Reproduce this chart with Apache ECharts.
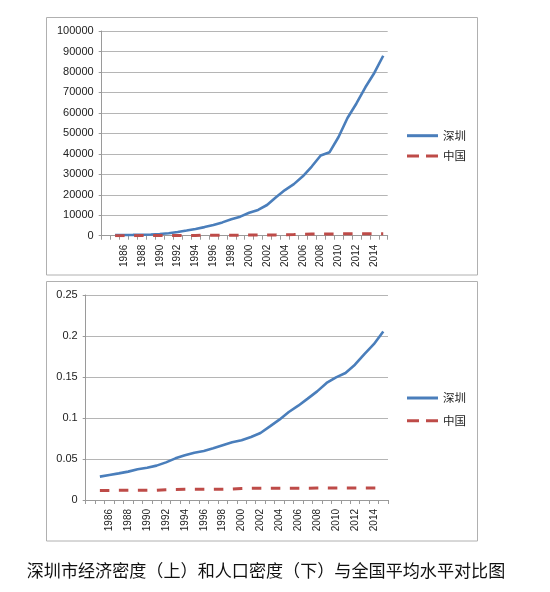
<!DOCTYPE html>
<html>
<head>
<meta charset="utf-8">
<script src="https://cdn.jsdelivr.net/npm/echarts@6/dist/echarts.min.js"></script>
<style>
html,body{margin:0;padding:0;background:#fff;}
#c{width:550px;height:592px;}
</style>
</head>
<body>
<div id="c"></div>
<script>
// Years shown on the category axes (the first slot of the axis is empty)
var years = ['1985','1986','1987','1988','1989','1990','1991','1992','1993','1994','1995','1996','1997','1998','1999','2000','2001','2002','2003','2004','2005','2006','2007','2008','2009','2010','2011','2012','2013','2014','2015'];
// Economic density (top chart)
var szEcon = [300,350,400,500,600,800,1200,1800,2500,3300,4200,5200,6500,8000,9300,11200,12600,15000,18800,22300,25200,29000,33800,39200,40800,48200,57500,64600,72500,79500,87900];
var cnEcon = [20,25,30,40,45,50,60,75,100,140,180,210,230,250,260,290,320,350,400,470,540,640,780,830,850,880,920,950,970,990,1000];
// Population density (bottom chart)
var szPop = [0.0285,0.0305,0.0325,0.0346,0.0374,0.0394,0.0419,0.0459,0.0508,0.0545,0.0577,0.0598,0.063,0.0667,0.0703,0.0728,0.0768,0.0817,0.0898,0.098,0.1073,0.115,0.1236,0.1325,0.1427,0.1496,0.1549,0.165,0.178,0.190,0.2055];
var cnPop = [0.0117,0.0117,0.0118,0.0118,0.0118,0.0118,0.0119,0.0125,0.0129,0.013,0.013,0.013,0.013,0.0131,0.0133,0.0139,0.0142,0.0143,0.0143,0.0144,0.0144,0.0144,0.0144,0.0145,0.0145,0.0145,0.0145,0.0145,0.0145,0.0146,0.0146];
var nameSZ = '深圳';
var nameCN = '中国';
var caption = '深圳市经济密度（上）和人口密度（下）与全国平均水平对比图';

var cats = [''].concat(years);
function pad(arr){ return [null].concat(arr); }

var BLUE = '#4a7ebb', RED = '#be4b48';
var gridLine = {show:true, lineStyle:{color:'#b5b5b5', width:1}};
var axisLineStyle = {color:'#9a9a9a', width:1};
var labelFont = 'Liberation Sans';

function xAxis(gi){
  return {
    type:'category', gridIndex:gi, data:cats, boundaryGap:true,
    axisLine:{lineStyle:axisLineStyle},
    axisTick:{show:true, interval:0, length:4, lineStyle:axisLineStyle},
    axisLabel:{interval:1, rotate:90, margin:9, fontSize:10, color:'#222', fontFamily:labelFont},
    splitLine:{show:false}
  };
}
function yAxis(gi, max, interval){
  return {
    type:'value', gridIndex:gi, min:0, max:max, interval:interval,
    axisLine:{show:true, lineStyle:axisLineStyle},
    axisTick:{show:true, length:3, lineStyle:axisLineStyle},
    axisLabel:{margin:8, fontSize:11, color:'#222', fontFamily:labelFont,
      formatter:function(v){ return String(v); }},
    splitLine:gridLine
  };
}
function lineSeries(name, data, xi, color, dashed){
  return {
    name:name, type:'line', xAxisIndex:xi, yAxisIndex:xi, data:pad(data),
    symbol:'none', smooth:false, connectNulls:false, animation:false,
    lineStyle:{color:color, width: dashed ? 3 : 2.6, type: dashed ? [9.5,9.5] : 'solid'},
    itemStyle:{color:color}
  };
}
function legend(top, gap){
  return {
    orient:'vertical', left:402, top:top, padding:5, itemWidth:31, itemHeight:3, itemGap:gap,
    textStyle:{fontSize:11.5, lineHeight:14, color:'#222', fontFamily:'Noto Sans CJK SC'},
    data:[
      {name:nameSZ, icon:'path://M0,0H31V3H0Z'},
      {name:nameCN, icon:'path://M0,0H12V3H0ZM19,0H31V3H19Z'}
    ]
  };
}

var chart = echarts.init(document.getElementById('c'), null, {renderer:'canvas'});
chart.setOption({
  backgroundColor:'#fff',
  animation:false,
  grid:[
    {left:101.7, top:31, width:286, height:204.7},
    {left:85.7, top:295, width:302.3, height:205}
  ],
  xAxis:[xAxis(0), xAxis(1)],
  yAxis:[yAxis(0, 100000, 10000), yAxis(1, 0.25, 0.05)],
  legend:[legend(123.7, 6.3), legend(386, 8.7)],
  series:[
    lineSeries(nameSZ, szEcon, 0, BLUE, false),
    lineSeries(nameCN, cnEcon, 0, RED, true),
    lineSeries(nameSZ, szPop, 1, BLUE, false),
    lineSeries(nameCN, cnPop, 1, RED, true)
  ],
  graphic:[
    {type:'rect', silent:true, z:-1, shape:{x:46.5, y:17.5, width:431, height:257.5},
      style:{fill:'none', stroke:'#b0b0b0', lineWidth:1}},
    {type:'rect', silent:true, z:-1, shape:{x:46.5, y:281.5, width:431, height:259.5},
      style:{fill:'none', stroke:'#b0b0b0', lineWidth:1}},
    {type:'text', silent:true, style:{text:caption, x:266, y:570, textAlign:'center', textVerticalAlign:'middle',
      font:'17.1px "Noto Sans CJK SC"', fill:'#111'}}
  ]
});
</script>
</body>
</html>
